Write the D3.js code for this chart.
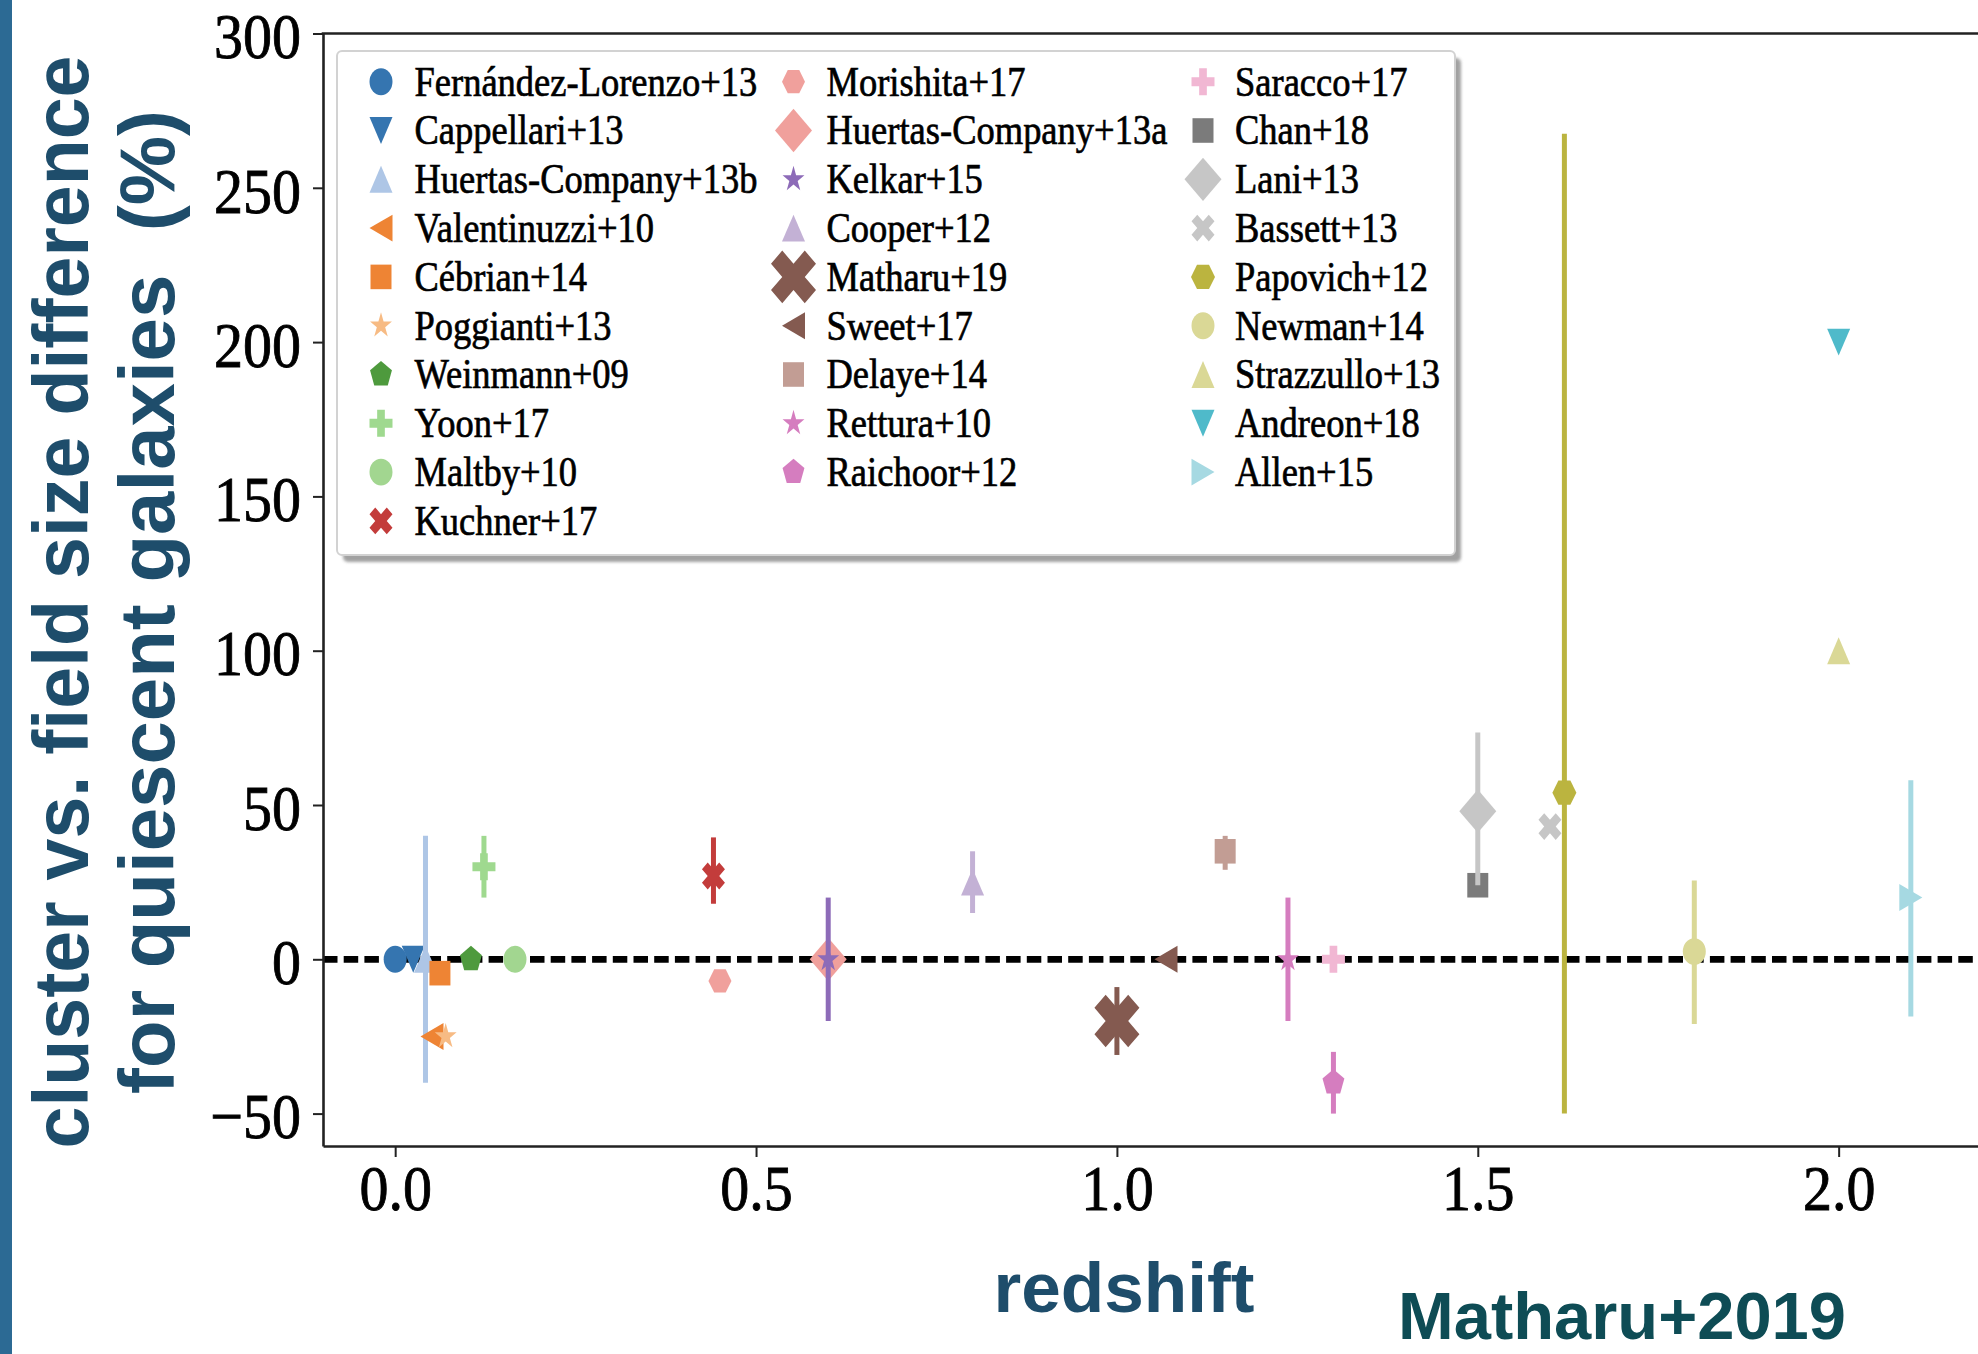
<!DOCTYPE html>
<html>
<head>
<meta charset="utf-8">
<script src="https://cdn.jsdelivr.net/npm/d3@7"></script>
<style>
  body { margin: 0; background: #fff; }
  svg { display: block; }
</style>
</head>
<body>
<script>
// Literature compilation: cluster vs field size difference of quiescent galaxies
const studies = [
  'Fernández-Lorenzo+13', 'Cappellari+13', 'Huertas-Company+13b', 'Valentinuzzi+10', 'Cébrian+14',
  'Poggianti+13', 'Weinmann+09', 'Yoon+17', 'Maltby+10', 'Kuchner+17',
  'Morishita+17', 'Huertas-Company+13a', 'Kelkar+15', 'Cooper+12', 'Matharu+19',
  'Sweet+17', 'Delaye+14', 'Rettura+10', 'Raichoor+12',
  'Saracco+17', 'Chan+18', 'Lani+13', 'Bassett+13', 'Papovich+12',
  'Newman+14', 'Strazzullo+13', 'Andreon+18', 'Allen+15'
]
const redshift = [
  0.0, 0.025, 0.042, 0.051, 0.062,
  0.07, 0.105, 0.123, 0.166, 0.441,
  0.45, 0.6, 0.6, 0.8, 1.0,
  1.068, 1.15, 1.237, 1.3,
  1.3, 1.5, 1.5, 1.6, 1.62,
  1.8, 2.0, 2.0, 2.1
]
const sizeDiff = [
  0, 0, 0, -25, -4.5,
  -25, 0, 30, 0, 27,
  -7, 0, 0, 25, -20,
  0, 35, 0, -40,
  0, 24, 48, 43, 54,
  2.5, 100, 200, 20
]
const errLow = [
  0, 0, 40, 0, 0,
  0, 0, 10, 0, 9,
  0, 0, 20, 10, 11,
  0, 6, 20, 10,
  4, 0, 24, 0, 104,
  23.5, 0, 0, 38.5
]
const errHigh = [
  0, 0, 40, 0, 0,
  0, 0, 10, 0, 12.5,
  0, 0, 20, 10, 11,
  0, 5, 20, 10,
  4, 0, 25.5, 0, 213.5,
  23, 0, 0, 38
]
const xTicks = [0, 0.5, 1.0, 1.5, 2.0]
const yTicks = [-50, 0, 50, 100, 150, 200, 250, 300]
const legendColumns = [10, 9, 9]

// marker styles (matplotlib-like codes), one per study
const markerShape = ['o', 'v', '^', '<', 's', '*', 'p', 'P', 'o', 'X',
  'H', 'D', '*', '^', 'X', '<', 's', '*', 'p',
  'P', 's', 'D', 'X', 'H', 'o', '^', 'v', '>']
const markerColor = [
  '#3575b0', '#3575b0', '#aec6e6', '#ee8434', '#ee8434',
  '#f7bb84', '#4e9a3d', '#9fd98f', '#a2d690', '#c33c3b',
  '#f0a09c', '#f0a09c', '#8d6bb8', '#c3b1d5', '#845a50',
  '#845a50', '#c29d94', '#d57dbf', '#d57dbf',
  '#f1b7d3', '#7b7b7b', '#c6c6c6', '#c6c6c6', '#bbb43f',
  '#dad896', '#dad896', '#4fbaca', '#a6d9e2'
]
const markerSize = [
  23, 23, 23, 23, 21,
  23, 23, 23, 23, 23,
  23, 37, 23, 23, 45,
  23, 21, 23, 23,
  23, 21, 37, 23, 24,
  23, 23, 23, 23
]

const W = 1978
const H = 1354
const STRETCH = 1.17 // the source image is slightly taller than wide
const plot = { left: 323, top: 33.5, bottom: 1146, right: 1983 }

const svg = d3.select('body').append('svg')
  .attr('width', W)
  .attr('height', H)
  .attr('viewBox', `0 0 ${W} ${H}`)

svg.append('rect').attr('width', W).attr('height', H).attr('fill', '#fff')

const defs = svg.append('defs')
defs.append('filter').attr('id', 'soft')
  .append('feGaussianBlur').attr('stdDeviation', 1.6)

const x = d3.scaleLinear().domain([-0.1, 2.2]).range([plot.left, plot.right])
const y = d3.scaleLinear().domain([-60.5, 300]).range([plot.bottom, plot.top])

function markerPath (shape, ms) {
  const r = ms / 2
  const p = d3.path()
  const poly = (pts) => {
    pts.forEach((q, k) => k ? p.lineTo(q[0], q[1]) : p.moveTo(q[0], q[1]))
    p.closePath()
  }
  const regular = (n, rad, start) => d3.range(n).map((k) => {
    const a = start + k * 2 * Math.PI / n
    return [rad * Math.cos(a), -rad * Math.sin(a)]
  })
  switch (shape) {
    case 'o': p.arc(0, 0, r, 0, 2 * Math.PI); break
    case '^': poly([[0, -r], [r, r], [-r, r]]); break
    case 'v': poly([[0, r], [r, -r], [-r, -r]]); break
    case '<': poly([[-r, 0], [r, -r], [r, r]]); break
    case '>': poly([[r, 0], [-r, -r], [-r, r]]); break
    case 's': poly([[-r, -r], [r, -r], [r, r], [-r, r]]); break
    case 'D': poly([[0, -r], [r, 0], [0, r], [-r, 0]]); break
    case 'p': poly(regular(5, r, Math.PI / 2)); break
    case 'H': poly(regular(6, r, 0)); break
    case '*': {
      const pts = d3.range(10).map((k) => {
        const rad = k % 2 ? r * 0.382 : r
        const a = Math.PI / 2 + k * Math.PI / 5
        return [rad * Math.cos(a), -rad * Math.sin(a)]
      })
      poly(pts); break
    }
    case 'P': poly([[-1, -3], [1, -3], [1, -1], [3, -1], [3, 1], [1, 1], [1, 3], [-1, 3], [-1, 1], [-3, 1], [-3, -1], [-1, -1]]
      .map((q) => [q[0] * ms / 6, q[1] * ms / 6])); break
    case 'X': poly([[-1, -2], [0, -1], [1, -2], [2, -1], [1, 0], [2, 1], [1, 2], [0, 1], [-1, 2], [-2, 1], [-1, 0], [-2, -1]]
      .map((q) => [q[0] * ms / 4, q[1] * ms / 4])); break
  }
  return p.toString()
}

// left slide accent bar
svg.append('rect').attr('x', 0).attr('y', 0).attr('width', 12).attr('height', H).attr('fill', '#2c6a94')

// zero line
svg.append('line')
  .attr('x1', plot.left).attr('x2', W)
  .attr('y1', y(0)).attr('y2', y(0))
  .attr('stroke', '#000')
  .attr('stroke-width', 6.8)
  .attr('stroke-dasharray', '14.5,6.2')

// points with error bars
studies.forEach((name, i) => {
  const g = svg.append('g').attr('class', 'study')
  if (errLow[i] + errHigh[i] > 0) {
    g.append('line')
      .attr('x1', x(redshift[i])).attr('x2', x(redshift[i]))
      .attr('y1', y(sizeDiff[i] - errLow[i]))
      .attr('y2', y(sizeDiff[i] + errHigh[i]))
      .attr('stroke', markerColor[i])
      .attr('stroke-width', 5)
  }
  g.append('path')
    .attr('d', markerPath(markerShape[i], markerSize[i]))
    .attr('transform', `translate(${x(redshift[i])},${y(sizeDiff[i])}) scale(1,${STRETCH})`)
    .attr('fill', markerColor[i])
})

// axes
const tickFont = (sel) => sel.selectAll('text')
  .attr('font-family', '"Liberation Serif", "DejaVu Serif", serif')
  .attr('font-size', 58)
  .attr('fill', '#000')
  .attr('stroke', '#000')
  .attr('stroke-width', 0.8)
  .attr('transform', 'scale(1,1.1)')

const gx = svg.append('g')
  .attr('transform', `translate(0,${plot.bottom})`)
  .call(d3.axisBottom(x).tickValues(xTicks).tickFormat(d3.format('.1f'))
    .tickSize(11).tickSizeOuter(0).tickPadding(6))
const gy = svg.append('g')
  .attr('transform', `translate(${plot.left},0)`)
  .call(d3.axisLeft(y).tickValues(yTicks).tickFormat(d3.format('d'))
    .tickSize(10).tickSizeOuter(0).tickPadding(12))
;[gx, gy].forEach((g) => {
  g.select('.domain').attr('stroke', '#222').attr('stroke-width', 2.6)
  g.selectAll('.tick line').attr('stroke', '#222').attr('stroke-width', 2)
  tickFont(g)
})
gy.selectAll('.tick text').attr('dy', '0.38em')
svg.append('line')
  .attr('x1', plot.left - 1.3).attr('x2', W)
  .attr('y1', plot.top).attr('y2', plot.top)
  .attr('stroke', '#222').attr('stroke-width', 2.6)

// legend
const leg = { x: 337, y: 51, w: 1118, h: 504 }
const legMarkerX = [381, 793.5, 1203]
const legTextX = [414.5, 826.5, 1235]
const rowY = (r) => 81.7 + r * 48.8

svg.append('rect')
  .attr('x', leg.x + 6).attr('y', leg.y + 7)
  .attr('width', leg.w).attr('height', leg.h)
  .attr('rx', 5)
  .attr('fill', '#8a8a8a').attr('opacity', 0.8)
  .attr('filter', 'url(#soft)')
svg.append('rect')
  .attr('x', leg.x).attr('y', leg.y)
  .attr('width', leg.w).attr('height', leg.h)
  .attr('rx', 5)
  .attr('fill', '#fff')
  .attr('stroke', '#d2d2d2').attr('stroke-width', 2)

let idx = 0
legendColumns.forEach((n, c) => {
  for (let r = 0; r < n; r++, idx++) {
    const i = idx
    const ly = rowY(r)
    svg.append('path')
      .attr('d', markerPath(markerShape[i], markerSize[i]))
      .attr('transform', `translate(${legMarkerX[c]},${ly}) scale(1,${STRETCH})`)
      .attr('fill', markerColor[i])
    svg.append('text')
      .attr('transform', `translate(${legTextX[c]},${ly}) scale(1,1.15)`)
      .attr('dy', '0.33em')
      .attr('font-family', '"Liberation Serif", "DejaVu Serif", serif')
      .attr('font-size', 36.5)
      .attr('fill', '#000')
      .attr('stroke', '#000')
      .attr('stroke-width', 0.6)
      .text(studies[i])
  }
})

// axis titles and slide annotations
const titleColor = '#1e4d6b'
const yTitle = [
  { text: 'cluster vs. field size difference', base: 88, length: 1093 },
  { text: 'for quiescent galaxies  (%)', base: 174, length: 984 }
]
yTitle.forEach((t) => {
  svg.append('text')
    .attr('transform', `translate(${t.base},602) rotate(-90)`)
    .attr('text-anchor', 'middle')
    .attr('font-family', '"Liberation Sans", Arial, sans-serif')
    .attr('font-weight', 700)
    .attr('font-size', 77)
    .attr('fill', titleColor)
    .attr('textLength', t.length)
    .attr('lengthAdjust', 'spacingAndGlyphs')
    .style('white-space', 'pre')
    .text(t.text)
})

svg.append('text')
  .attr('x', 1124).attr('y', 1312)
  .attr('text-anchor', 'middle')
  .attr('font-family', '"Liberation Sans", Arial, sans-serif')
  .attr('font-weight', 700)
  .attr('font-size', 70)
  .attr('fill', titleColor)
  .attr('textLength', 261)
  .attr('lengthAdjust', 'spacingAndGlyphs')
  .text('redshift')

svg.append('text')
  .attr('x', 1398).attr('y', 1339)
  .attr('font-family', '"Liberation Sans", Arial, sans-serif')
  .attr('font-weight', 700)
  .attr('font-size', 66)
  .attr('fill', '#0e4c55')
  .attr('textLength', 448)
  .attr('lengthAdjust', 'spacingAndGlyphs')
  .text('Matharu+2019')
</script>
</body>
</html>
